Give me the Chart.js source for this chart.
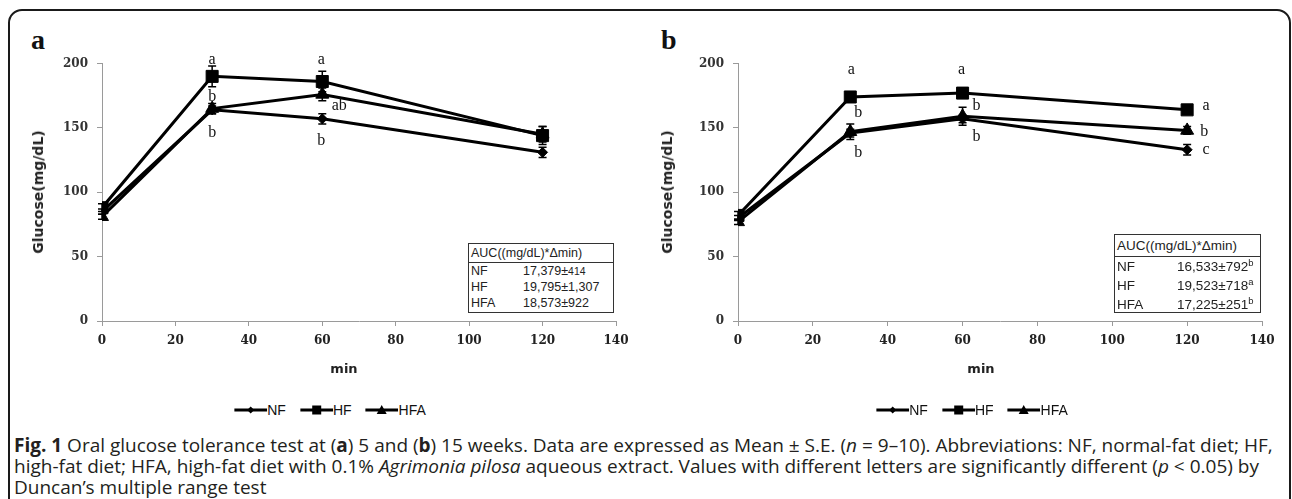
<!DOCTYPE html>
<html><head><meta charset="utf-8">
<script src="https://cdn.jsdelivr.net/npm/chart.js@4.4.1/dist/chart.umd.min.js"></script>
<style>
html,body{margin:0;padding:0;background:#fff;}
body{width:1292px;height:499px;overflow:hidden;position:relative;}
#frame{position:absolute;left:8px;top:9px;width:1283px;height:560px;border:2px solid #1a1a1a;border-radius:14px;box-sizing:border-box;}
.plab{position:absolute;font:bold 28px 'Liberation Serif',serif;line-height:28px;color:#111;}
canvas{position:absolute;top:0;}
#ca{left:0;} #cb{left:640px;}
.ytitle{position:absolute;font:bold 14px 'DejaVu Sans',sans-serif;color:#222;transform:translate(-50%,-50%) rotate(-90deg);white-space:nowrap;}
.xtitle{position:absolute;font:bold 13px 'DejaVu Sans',sans-serif;color:#222;transform:translate(-50%,-50%);white-space:nowrap;}
.legend{position:absolute;transform:translate(-50%,-50%);display:flex;align-items:center;font:14px 'Liberation Sans Narrow','Liberation Sans',sans-serif;color:#111;white-space:nowrap;}
.legend span{margin-right:14px;}
.legend span:last-child{margin-right:0;}
.legend svg{display:block;}
.auc{position:absolute;border:1.5px solid #333;box-sizing:border-box;font-family:'Liberation Sans Narrow','Liberation Sans',sans-serif;color:#222;background:#fff;}
.auc .hd{border-bottom:1.5px solid #333;padding-left:2px;}
.auc .r{position:relative;padding-left:2px;}
.auc .r b{font-weight:normal;position:absolute;top:0;}
.auc sup{font-size:70%;line-height:0;}
#cap{position:absolute;left:14px;top:435px;font:19px/21px 'Open Sans',sans-serif;color:#231f20;white-space:nowrap;}
</style></head><body>
<div id="frame"></div>
<div class="plab" style="left:31px;top:26px;">a</div>
<div class="plab" style="left:661px;top:26px;">b</div>
<canvas id="ca" width="660" height="400" style="width:660px;height:400px"></canvas>
<canvas id="cb" width="652" height="400" style="width:652px;height:400px"></canvas>
<div class="ytitle" style="left:38px;top:192px;">Glucose(mg/dL)</div>
<div class="ytitle" style="left:667px;top:192px;">Glucose(mg/dL)</div>
<div class="xtitle" style="left:344px;top:368px;">min</div>
<div class="xtitle" style="left:981px;top:368px;">min</div>
<div class="legend" id="lga" style="left:330px;top:410px;"></div>
<div class="legend" id="lgb" style="left:972px;top:410px;"></div>

<div class="auc" style="left:468px;top:243px;width:146px;height:70px;font-size:12.5px;line-height:16px;">
  <div class="hd" style="line-height:18px;">AUC((mg/dL)*Δmin)</div>
  <div class="r">NF<b style="left:54px">17,379±<small>414</small></b></div>
  <div class="r">HF<b style="left:54px">19,795±1,307</b></div>
  <div class="r">HFA<b style="left:54px">18,573±922</b></div>
</div>
<div class="auc" style="left:1114px;top:234px;width:147px;height:79px;font-size:13.5px;line-height:19px;">
  <div class="hd" style="line-height:21px;">AUC((mg/dL)*Δmin)</div>
  <div class="r">NF<b style="left:62px">16,533±792<sup>b</sup></b></div>
  <div class="r">HF<b style="left:62px">19,523±718<sup>a</sup></b></div>
  <div class="r">HFA<b style="left:62px">17,225±251<sup>b</sup></b></div>
</div>

<div id="cap"><b>Fig. 1</b> Oral glucose tolerance test at (<b>a</b>) 5 and (<b>b</b>) 15 weeks. Data are expressed as Mean ± S.E. (<i>n</i> = 9–10). Abbreviations: NF, normal-fat diet; HF,<br>high-fat diet; HFA, high-fat diet with 0.1% <i>Agrimonia pilosa</i> aqueous extract. Values with different letters are significantly different (<i>p</i> &lt; 0.05) by<br>Duncan’s multiple range test</div>

<script>
// ---- data ----
const minutes = [0, 30, 60, 120];
const seriesNames = ['NF', 'HF', 'HFA'];
const xTickValues = [0, 20, 40, 60, 80, 100, 120, 140];
const yTickValues = [0, 50, 100, 150, 200];

// Panel a (5 weeks)
const aNF = [85, 164, 157, 131];
const aHF = [88, 190, 186, 144];
const aHFA = [81, 165, 176, 145];
const aNFerr = [2, 3, 4, 4];
const aHFerr = [3, 8, 8, 7];
const aHFAerr = [2, 4, 5, 6];
const aNFletters = ['', 'b', 'b', ''];
const aHFletters = ['', 'a', 'a', ''];
const aHFAletters = ['', 'b', 'ab', ''];

// Panel b (15 weeks)
const bNF = [80, 146, 157, 133];
const bHF = [82, 174, 177, 164];
const bHFA = [77, 147, 159, 148];
const bNFerr = [2, 3, 3, 4];
const bHFerr = [3, 2, 2, 2];
const bHFAerr = [2, 6, 7, 3];
const bNFletters = ['', 'b', 'b', 'c'];
const bHFletters = ['', 'a', 'a', 'a'];
const bHFAletters = ['', 'b', 'b', 'b'];

// ---- styles / label offsets (pixels) ----
const markerStyle = {
  NF: {pointStyle: 'rectRot', radius: 5},
  HF: {pointStyle: 'rect', radius: 8.5},
  HFA: {pointStyle: 'triangle', radius: 7.5}
};
const aOffsets = {
  NF: [null, [0, 23], [-1, 22], null],
  HF: [null, [0, -17], [-1, -22], null],
  HFA: [null, [0, -12], [17, 11], null]
};
const bOffsets = {
  NF: [null, [8, 20], [14, 18], [19, 0]],
  HF: [null, [1, -27], [-1, -23], [19, -4]],
  HFA: [null, [8, -19], [14, -10], [17, 1]]
};

const annotPlugin = {
  id: 'annot',
  beforeDatasetsDraw(chart) {
    const {ctx, scales: {x, y}} = chart;
    ctx.save();
    ctx.strokeStyle = '#000';
    ctx.lineWidth = 1.5;
    chart.data.datasets.forEach(ds => {
      ds.data.forEach((p, i) => {
        const e = ds.errors[i];
        if (!e) return;
        const px = x.getPixelForValue(p.x);
        const top = y.getPixelForValue(p.y + e);
        const bot = y.getPixelForValue(p.y - e);
        ctx.beginPath();
        ctx.moveTo(px, top); ctx.lineTo(px, bot);
        ctx.moveTo(px - 4, top); ctx.lineTo(px + 4, top);
        ctx.moveTo(px - 4, bot); ctx.lineTo(px + 4, bot);
        ctx.stroke();
      });
    });
    ctx.restore();
  },
  afterDatasetsDraw(chart) {
    const {ctx, scales: {x, y}} = chart;
    ctx.save();
    ctx.fillStyle = '#111';
    ctx.font = '16px "Liberation Serif", serif';
    ctx.textAlign = 'center';
    ctx.textBaseline = 'middle';
    chart.data.datasets.forEach(ds => {
      ds.data.forEach((p, i) => {
        const t = ds.letters[i];
        const o = ds.offsets[i];
        if (!t || !o) return;
        ctx.fillText(t, x.getPixelForValue(p.x) + o[0], y.getPixelForValue(p.y) + o[1]);
      });
    });
    ctx.restore();
  }
};

function build(canvasId, vals, errs, letters, offsets, yWidth, padRight) {
  const datasets = seriesNames.map((name, k) => ({
    label: name,
    data: minutes.map((m, i) => ({x: m, y: vals[k][i]})),
    errors: errs[k],
    letters: letters[k],
    offsets: offsets[name],
    borderColor: '#000',
    backgroundColor: '#000',
    borderWidth: 3,
    pointStyle: markerStyle[name].pointStyle,
    pointRadius: markerStyle[name].radius,
    pointBackgroundColor: '#000',
    pointBorderColor: '#000',
    pointBorderWidth: 1,
    tension: 0,
    fill: false
  }));
  const axisGrid = {display: true, drawOnChartArea: false, drawTicks: true, tickLength: 5, color: '#9a9a9a', lineWidth: 1};
  return new Chart(document.getElementById(canvasId), {
    type: 'line',
    data: {datasets},
    options: {
      responsive: false, animation: false, devicePixelRatio: 1,
      layout: {padding: {top: 63.5, left: 0, right: padRight, bottom: 0}},
      plugins: {legend: {display: false}, tooltip: {enabled: false}},
      scales: {
        x: {
          type: 'linear', min: 0, max: 140,
          afterBuildTicks: s => { s.ticks = xTickValues.map(v => ({value: v})); },
          afterFit: s => { s.height = 400 - 321; },
          grid: axisGrid,
          border: {display: true, color: '#9a9a9a', width: 1},
          ticks: {padding: 8, color: '#222', font: {family: 'DejaVu Serif', weight: 'bold', size: 12}, maxRotation: 0}
        },
        y: {
          type: 'linear', min: 0, max: 200,
          afterBuildTicks: s => { s.ticks = yTickValues.map(v => ({value: v})); },
          afterFit: s => { s.width = yWidth; },
          grid: axisGrid,
          border: {display: true, color: '#9a9a9a', width: 1},
          ticks: {padding: 9, color: '#333', font: {family: 'DejaVu Serif', weight: 'bold', size: 12}}
        }
      }
    },
    plugins: [annotPlugin]
  });
}

build('ca', [aNF, aHF, aHFA], [aNFerr, aHFerr, aHFAerr], [aNFletters, aHFletters, aHFAletters], aOffsets, 102, 44);
build('cb', [bNF, bHF, bHFA], [bNFerr, bHFerr, bHFAerr], [bNFletters, bHFletters, bHFAletters], bOffsets, 98, 30);

// legends
const legendIcons = {
  NF: '<polygon points="16.5,2.5 20,6 16.5,9.5 13,6" fill="#000"/>',
  HF: '<rect x="12" y="1.5" width="9" height="9" fill="#000"/>',
  HFA: '<polygon points="16.5,1 21.5,10 11.5,10" fill="#000"/>'
};
['lga', 'lgb'].forEach(id => {
  const el = document.getElementById(id);
  el.innerHTML = seriesNames.map(n =>
    '<svg width="33" height="12" viewBox="0 0 33 12"><line x1="0" y1="6" x2="33" y2="6" stroke="#000" stroke-width="3"/>' +
    legendIcons[n] + '</svg><span>' + n + '</span>').join('');
});
</script>
</body></html>
